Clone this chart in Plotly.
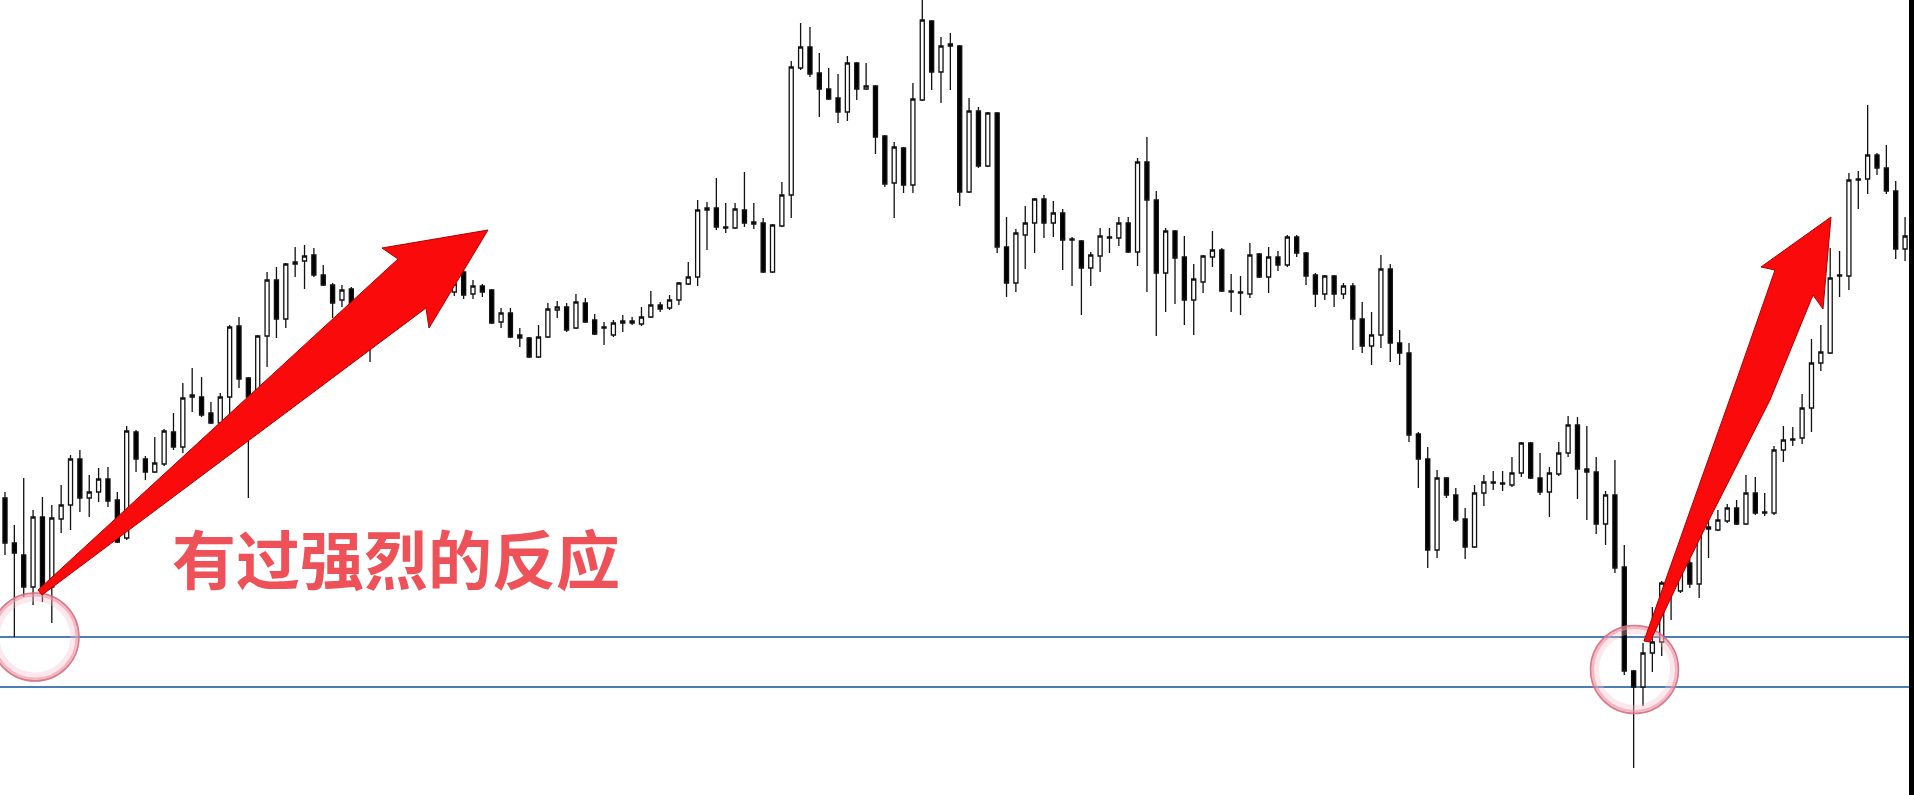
import plotly.graph_objects as go

# ---- data (price points) ----
opens = [
    502, 457, 445, 413, 483, 413, 481, 495, 541, 502,
    508, 521, 500, 462, 568, 541, 528, 536, 568, 553,
    603, 603, 587, 577, 603, 674, 622, 610, 664, 720,
    681, 736, 739, 745, 725, 715, 700, 711, 694, 710,
    682, 700, 715, 702, 720, 708, 718, 710, 708, 728,
    706, 714, 710, 678, 687, 665, 662, 643, 663, 690,
    693, 672, 697, 680, 673, 665, 677, 679, 676, 683,
    695, 692, 700, 716, 723, 792, 792, 773, 772, 790,
    778, 777, 728, 774, 805, 932, 953, 927, 911, 902,
    888, 937, 911, 914, 864, 817, 852, 815, 900, 979,
    928, 956, 954, 808, 889, 834, 887, 753, 717, 765,
    777, 801, 777, 787, 761, 759, 732, 744, 762, 762,
    777, 748, 838, 800, 727, 769, 743, 700, 718, 743,
    750, 709, 707, 706, 746, 723, 743, 735, 763, 747,
    725, 706, 724, 706, 714, 681, 654, 665, 731, 657,
    647, 566, 541, 450, 522, 505, 481, 453, 507, 518,
    516, 515, 527, 557, 522, 508, 526, 547, 575, 531,
    528, 476, 505, 433, 329, 313, 347, 358, 415, 409,
    437, 416, 473, 470, 479, 492, 476, 507, 488, 487,
    550, 560, 562, 592, 637, 647, 725, 724, 820, 821,
    845, 832, 809, 751,
]
highs = [
    508, 475, 522, 490, 503, 495, 515, 545, 550, 525,
    532, 533, 508, 574, 570, 544, 563, 571, 587, 617,
    632, 623, 598, 607, 675, 683, 623, 665, 728, 733,
    737, 753, 755, 752, 735, 717, 715, 713, 704, 712,
    705, 722, 720, 728, 724, 725, 723, 726, 719, 730,
    720, 716, 711, 692, 692, 672, 663, 675, 697, 699,
    697, 706, 702, 686, 678, 680, 685, 683, 693, 709,
    698, 705, 718, 738, 800, 798, 822, 797, 797, 828,
    797, 782, 776, 818, 939, 977, 973, 947, 932, 926,
    944, 938, 937, 915, 865, 858, 853, 917, 1005, 980,
    963, 967, 955, 902, 893, 888, 888, 783, 771, 794,
    802, 805, 799, 791, 763, 760, 748, 772, 772, 783,
    783, 842, 863, 809, 772, 770, 764, 736, 745, 769,
    752, 726, 724, 757, 747, 753, 749, 765, 765, 748,
    727, 725, 725, 717, 717, 698, 688, 745, 736, 670,
    657, 568, 553, 530, 523, 512, 492, 515, 525, 529,
    529, 543, 558, 558, 547, 533, 558, 584, 583, 574,
    543, 509, 540, 455, 330, 357, 393, 419, 425, 440,
    441, 482, 483, 490, 496, 500, 525, 523, 507, 554,
    574, 573, 606, 661, 675, 752, 749, 827, 829, 895,
    847, 855, 819, 783,
]
lows = [
    445, 363, 403, 395, 398, 377, 467, 470, 488, 483,
    498, 493, 457, 460, 528, 520, 527, 534, 550, 547,
    588, 583, 576, 573, 583, 612, 502, 607, 633, 662,
    672, 723, 711, 723, 714, 682, 693, 680, 688, 638,
    675, 695, 698, 697, 704, 702, 705, 706, 704, 701,
    701, 703, 676, 672, 662, 653, 642, 642, 662, 682,
    668, 671, 677, 665, 655, 663, 668, 675, 674, 682,
    688, 690, 695, 715, 714, 750, 770, 767, 771, 773,
    771, 727, 727, 773, 782, 930, 923, 883, 900, 877,
    879, 900, 910, 846, 813, 782, 807, 807, 899, 910,
    897, 910, 794, 807, 832, 833, 747, 703, 708, 731,
    747, 762, 763, 730, 714, 685, 714, 728, 747, 754,
    747, 734, 708, 664, 688, 696, 675, 665, 707, 733,
    708, 688, 685, 702, 722, 707, 729, 733, 743, 715,
    693, 700, 693, 701, 650, 647, 635, 652, 638, 635,
    558, 512, 432, 442, 502, 478, 441, 452, 494, 510,
    509, 513, 523, 521, 505, 483, 524, 543, 501, 480,
    466, 455, 427, 325, 232, 294, 328, 344, 380, 407,
    412, 402, 442, 469, 477, 475, 475, 485, 484, 485,
    538, 554, 556, 568, 629, 646, 703, 710, 791, 806,
    825, 806, 741, 739,
]
closes = [
    457, 447, 413, 483, 413, 482, 495, 541, 502, 508,
    521, 499, 458, 569, 541, 528, 537, 569, 553, 602,
    605, 585, 577, 603, 673, 621, 603, 664, 720, 681,
    736, 738, 744, 725, 715, 697, 710, 695, 702, 680,
    700, 715, 702, 720, 708, 718, 710, 720, 716, 705,
    714, 708, 677, 687, 663, 662, 643, 663, 691, 693,
    670, 698, 678, 666, 672, 677, 679, 677, 683, 695,
    691, 700, 717, 723, 790, 790, 773, 772, 791, 777,
    776, 728, 775, 805, 933, 953, 926, 911, 901, 888,
    937, 911, 914, 863, 816, 853, 815, 901, 980, 928,
    954, 954, 808, 889, 834, 887, 753, 717, 767, 777,
    801, 777, 787, 760, 760, 732, 745, 764, 763, 777,
    748, 838, 800, 727, 769, 742, 700, 721, 744, 750,
    709, 708, 708, 745, 723, 743, 735, 763, 747, 724,
    706, 724, 706, 714, 681, 654, 665, 731, 657, 647,
    565, 541, 450, 522, 505, 480, 453, 507, 518, 517,
    517, 527, 557, 522, 508, 527, 547, 575, 531, 528,
    476, 505, 432, 329, 313, 347, 358, 417, 409, 437,
    416, 472, 471, 480, 492, 476, 507, 487, 487, 550,
    560, 561, 592, 637, 648, 722, 724, 820, 821, 845,
    832, 809, 751, 764,
]
bars = list(range(len(opens)))
support_levels = [363, 313]
label_text = "有过强烈的反应"

# ---- layout helpers (pixel -> paper) ----
W, H = 1914, 795


def px(x):
    return x / W


def py(y):
    return 1 - y / H


def poly(points):
    return "M " + " L ".join(f"{px(x):.5f},{py(y):.5f}" for x, y in points) + " Z"


fig = go.Figure()
fig.add_trace(go.Candlestick(
    x=bars, open=opens, high=highs, low=lows, close=closes,
    increasing=dict(line=dict(color="#111111", width=1.3), fillcolor="#ffffff"),
    decreasing=dict(line=dict(color="#111111", width=1.3), fillcolor="#000000"),
    whiskerwidth=0, hoverinfo="skip", showlegend=False,
))

shapes = []
for lvl in support_levels:
    shapes.append(dict(type="line", xref="paper", x0=0, x1=1, yref="y", y0=lvl, y1=lvl,
                       line=dict(color="#4d7db5", width=2), layer="below"))

# circles (soft pink glow + rim)
for cx, cy, r in [(35, 637, 44), (1634.5, 669.5, 44)]:
    for rr, col, w in [(r - 5, "rgba(245,190,200,0.35)", 7),
                       (r - 1.5, "rgba(235,150,168,0.6)", 4),
                       (r, "rgba(215,105,125,0.85)", 1.5)]:
        shapes.append(dict(type="circle", xref="paper", yref="paper",
                           x0=px(cx - rr), x1=px(cx + rr), y0=py(cy + rr), y1=py(cy - rr),
                           line=dict(color=col, width=w), layer="above"))

# arrows
left_arrow = [(38, 590), (398, 259), (382, 248), (488, 230), (429, 328), (426, 308), (42, 595)]
right_arrow = [(1644, 641), (1672, 562), (1701, 480), (1738, 376), (1775, 270),
               (1761, 267), (1831, 217), (1823, 309), (1813, 295), (1770, 400), (1709, 520),
               (1678, 583), (1650, 642)]
for pts in (left_arrow, right_arrow):
    shapes.append(dict(type="path", xref="paper", yref="paper", path=poly(pts),
                       fillcolor="#fa0a0a", line=dict(color="#b00000", width=1), layer="above"))

# dark strip at right edge
shapes.append(dict(type="rect", xref="paper", yref="paper", x0=px(1909), x1=1, y0=0, y1=1,
                   fillcolor="#000000", line=dict(width=0), layer="above"))

fig.update_layout(
    width=W, height=H,
    margin=dict(l=0, r=0, t=0, b=0),
    paper_bgcolor="#ffffff", plot_bgcolor="#ffffff",
    boxgap=0.38,
    showlegend=False,
    shapes=shapes,
    xaxis=dict(range=[-5 / 9.36, (W - 5) / 9.36], visible=False, showgrid=False,
               rangeslider=dict(visible=False), fixedrange=True),
    yaxis=dict(range=[205, 1000], visible=False, showgrid=False, fixedrange=True),
    annotations=[dict(
        text=label_text, xref="paper", yref="paper", x=px(396), y=py(556),
        xanchor="center", yanchor="middle", showarrow=False,
        font=dict(family="Noto Sans CJK SC", size=64, color="#ee5258", weight=700),
    )],
)

fig.write_html("out.html", config={"displayModeBar": False},
               post_script="document.body.style.margin='0';document.body.style.overflow='hidden';")
